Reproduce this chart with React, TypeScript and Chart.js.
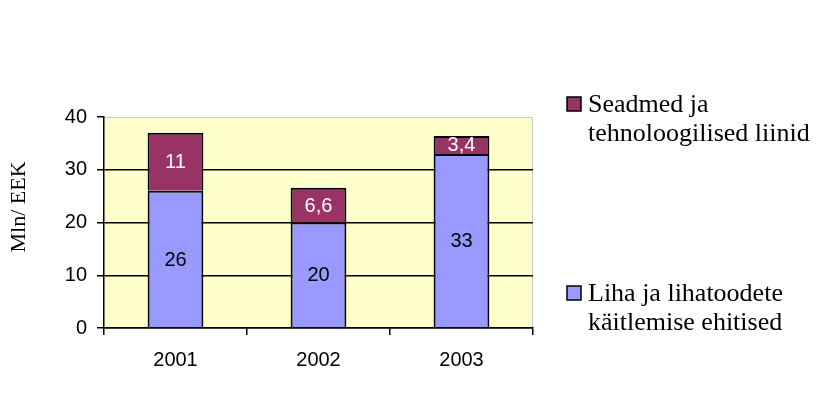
import React, { useEffect, useRef } from "react";
import { Chart, registerables } from "chart.js";

Chart.register(...registerables);

const categories = ["2001", "2002", "2003"];
const buildingsValues = [26, 20, 33];
const equipmentValues = [11, 6.6, 3.4];
const buildingsLegend = ["Liha ja lihatoodete", "käitlemise ehitised"];
const equipmentLegend = ["Seadmed ja", "tehnoloogilised liinid"];
const yTitle = "Mln/ EEK";

const BLUE = "#9999FF";
const MAROON = "#993366";
const PLOT_BG = "#FFFFCC";

const fmt = (v: number) => String(v).replace(".", ",");

export default function App() {
  const ref = useRef<HTMLCanvasElement | null>(null);

  useEffect(() => {
    document.body.style.margin = "0";
    const canvas = ref.current;
    if (!canvas) return;

    const plotBg = {
      id: "plotBg",
      beforeDraw(chart: any) {
        const { ctx, chartArea: a } = chart;
        ctx.save();
        ctx.fillStyle = PLOT_BG;
        ctx.fillRect(a.left, a.top, a.right - a.left, a.bottom - a.top);
        ctx.strokeStyle = "#c8c8c8";
        ctx.lineWidth = 1;
        ctx.beginPath();
        ctx.moveTo(a.left, a.top + 0.5);
        ctx.lineTo(a.right - 0.5, a.top + 0.5);
        ctx.lineTo(a.right - 0.5, a.bottom);
        ctx.stroke();
        ctx.restore();
      },
    };

    const labelsPlugin = {
      id: "barLabels",
      afterDatasetsDraw(chart: any) {
        const { ctx } = chart;
        ctx.save();
        ctx.font = "20px 'Liberation Sans', Arial, sans-serif";
        ctx.textAlign = "center";
        ctx.textBaseline = "middle";
        chart.data.datasets.forEach((ds: any, di: number) => {
          const meta = chart.getDatasetMeta(di);
          meta.data.forEach((bar: any, i: number) => {
            const v = ds.data[i];
            const cy = (bar.y + bar.base) / 2;
            ctx.fillStyle = di === 1 ? "#ffffff" : "#000000";
            ctx.fillText(fmt(v), bar.x, cy + 1);
          });
        });
        ctx.restore();
      },
    };

    const legendTitlePlugin = {
      id: "legendTitle",
      afterDraw(chart: any) {
        const { ctx } = chart;
        ctx.save();
        ctx.font = "22px 'Liberation Serif', 'Times New Roman', serif";
        ctx.fillStyle = "#000";
        ctx.textAlign = "center";
        ctx.textBaseline = "middle";
        ctx.translate(19, 207);
        ctx.rotate(-Math.PI / 2);
        ctx.fillText(yTitle, 0, 0);
        ctx.restore();

        ctx.save();
        ctx.font = "26px 'Liberation Serif', 'Times New Roman', serif";
        ctx.textAlign = "left";
        ctx.textBaseline = "middle";
        const entries = [
          { lines: equipmentLegend, color: MAROON, y: 104 },
          { lines: buildingsLegend, color: BLUE, y: 293 },
        ];
        entries.forEach((e) => {
          ctx.fillStyle = e.color;
          ctx.fillRect(567, e.y - 7, 14, 14);
          ctx.strokeStyle = "#000";
          ctx.lineWidth = 1.5;
          ctx.strokeRect(567, e.y - 7, 14, 14);
          ctx.fillStyle = "#000";
          e.lines.forEach((ln, li) => {
            ctx.fillText(ln, 588, e.y + 1 + li * 29);
          });
        });
        ctx.restore();
      },
    };

    const chart = new Chart(canvas, {
      type: "bar",
      data: {
        labels: categories,
        datasets: [
          {
            label: buildingsLegend.join(" "),
            data: buildingsValues,
            backgroundColor: BLUE,
            borderColor: "#000",
            borderWidth: 2,
          },
          {
            label: equipmentLegend.join(" "),
            data: equipmentValues,
            backgroundColor: MAROON,
            borderColor: "#000",
            borderWidth: 2,
          },
        ],
      },
      options: {
        animation: false,
        responsive: false,
        devicePixelRatio: 1,
        layout: { padding: { left: 0, top: 117, right: 292, bottom: 0 } },
        datasets: {
          bar: { categoryPercentage: 1, barPercentage: 0.39 },
        },
        plugins: {
          legend: { display: false },
          tooltip: { enabled: false },
          title: { display: false },
        },
        scales: {
          x: {
            stacked: true,
            afterFit: (s: any) => {
              s.height = 74;
            },
            grid: {
              drawOnChartArea: false,
              offset: true,
              tickLength: 7,
              tickColor: "#000",
              color: "#000",
              lineWidth: 1.5,
            },
            border: { color: "#000", width: 1.5 },
            ticks: {
              color: "#000",
              padding: 13,
              font: { family: "'Liberation Sans', Arial, sans-serif", size: 20 },
            },
          },
          y: {
            stacked: true,
            min: 0,
            max: 40,
            afterFit: (s: any) => {
              s.width = 104;
            },
            grid: {
              color: (c: any) => (c.tick && c.tick.value === 40 ? "rgba(0,0,0,0)" : "#000"),
              tickColor: "#000",
              tickLength: 7,
              lineWidth: 1.5,
            },
            border: { color: "#000", width: 1.5 },
            ticks: {
              stepSize: 10,
              color: "#000",
              padding: 10,
              font: { family: "'Liberation Sans', Arial, sans-serif", size: 20 },
            },
          },
        },
      },
      plugins: [plotBg, labelsPlugin, legendTitlePlugin],
    });

    return () => chart.destroy();
  }, []);

  return (
    <div style={{ width: 825, height: 402, background: "#fff" }}>
      <canvas ref={ref} width={825} height={402} />
    </div>
  );
}
